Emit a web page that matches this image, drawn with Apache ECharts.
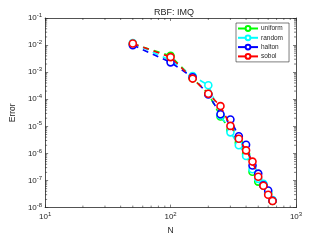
<!DOCTYPE html>
<html><head><meta charset="utf-8">
<script src="https://cdn.jsdelivr.net/npm/echarts@6/dist/echarts.min.js"></script>
<style>html,body{margin:0;padding:0;background:#fff}#c{width:327px;height:240px}</style>
</head><body><div id="c"></div>
<script>
const N = [50,100,150,200,250,300,350,400,450,500,550,600,650];
const uniform = [1.1e-2,4.0e-3,6.0e-4,1.6e-4,2.3e-5,7.4e-6,2.5e-6,9.5e-7,2.1e-7,9.1e-8,6.5e-8,3.4e-8,1.75e-8];
const random  = [1.2e-2,2.7e-3,7.2e-4,3.3e-4,2.6e-5,6.0e-6,2.0e-6,8.0e-7,2.6e-7,1.15e-7,7.5e-8,3.8e-8,1.9e-8];
const halton  = [1.0e-2,2.3e-3,6.5e-4,1.5e-4,2.8e-5,1.8e-5,4.3e-6,2.1e-6,3.6e-7,1.8e-7,6.7e-8,4.3e-8,1.8e-8];
const sobol   = [1.15e-2,3.6e-3,5.8e-4,1.6e-4,5.6e-5,1.04e-5,3.5e-6,1.3e-6,5.0e-7,1.38e-7,6.4e-8,3.0e-8,1.75e-8];
const names = ['uniform','random','halton','sobol'];
const colors = ['#00ff00','#00ffff','#0000ff','#ff0000'];
const xMinor = [20,30,40,50,60,70,80,90,200,300,400,500,600,700,800,900];
const yMinor = [];
for (let e=-8; e<-1; e++) for (let m=2; m<=9; m++) yMinor.push(m*Math.pow(10,e));
const X_MIN=10, X_MAX=1000, Y_MIN=1e-8, Y_MAX=1e-1;
const axisColor = '#262626';
const FF = 'Liberation Sans';

function supFmt(v){ const e=Math.round(Math.log10(v)); return '10{s|'+e+'}'; }
const rich = { s:{fontSize:6, verticalAlign:'top', padding:[0,0,5,0], color:axisColor, fontFamily:FF} };

const chart = echarts.init(document.getElementById('c'), null, {renderer:'canvas'});
const data = [uniform, random, halton, sobol];
const series = data.map((d,i)=>({
  name:names[i], type:'line', xAxisIndex:0, yAxisIndex:0,
  data:N.map((n,j)=>[n,d[j]]),
  symbol:'circle', symbolSize:7, showSymbol:true,
  itemStyle:{color:'#fff', borderColor:colors[i], borderWidth:1.6},
  lineStyle:{color:colors[i], width:1.6, type:[6,5]},
  z:2+i, animation:false
}));
series.push({
  type:'custom', xAxisIndex:0, yAxisIndex:0, silent:true, clip:false, z:10,
  data:xMinor.map(v=>[v]),
  renderItem:(params, api)=>{
    const v = api.value(0);
    const b = api.coord([v, Y_MIN]), t = api.coord([v, Y_MAX]);
    const st = {stroke:axisColor, lineWidth:0.6};
    return {type:'group', children:[
      {type:'line', shape:{x1:b[0],y1:b[1],x2:b[0],y2:b[1]-2}, style:st},
      {type:'line', shape:{x1:t[0],y1:t[1],x2:t[0],y2:t[1]+2}, style:st}
    ]};
  }, animation:false
});
series.push({
  type:'custom', xAxisIndex:0, yAxisIndex:0, silent:true, clip:false, z:10,
  data:yMinor.map(v=>[v]),
  renderItem:(params, api)=>{
    const v = api.value(0);
    const l = api.coord([X_MIN, v]), r = api.coord([X_MAX, v]);
    const st = {stroke:axisColor, lineWidth:0.6};
    return {type:'group', children:[
      {type:'line', shape:{x1:l[0],y1:l[1],x2:l[0]+2,y2:l[1]}, style:st},
      {type:'line', shape:{x1:r[0],y1:r[1],x2:r[0]-2,y2:r[1]}, style:st}
    ]};
  }, animation:false
});

const baseX = {type:'log', logBase:10, min:X_MIN, max:X_MAX, splitLine:{show:false},
  axisLine:{show:true, lineStyle:{color:axisColor, width:0.8}},
  axisTick:{show:true, inside:true, length:3, lineStyle:{color:axisColor, width:0.6}}};
const baseY = {type:'log', logBase:10, min:Y_MIN, max:Y_MAX, splitLine:{show:false},
  axisLine:{show:true, lineStyle:{color:axisColor, width:0.8}},
  axisTick:{show:true, inside:true, length:3, lineStyle:{color:axisColor, width:0.6}}};

chart.setOption({
  animation:false,
  backgroundColor:'#fff',
  title:{text:'RBF: IMQ', left:169, top:3, textAlign:'center',
    textStyle:{fontSize:9, fontWeight:'normal', color:axisColor, fontFamily:FF}},
  grid:{left:43, right:31, top:18, bottom:27, containLabel:false},
  legend:{orient:'vertical', left:236, top:23, itemWidth:20, itemHeight:6, itemGap:2.3,
    padding:[2,6,2,1], borderColor:axisColor, borderWidth:0.6, backgroundColor:'#fff',
    lineStyle:{type:'solid'},
    textStyle:{fontSize:6.5, color:axisColor, fontFamily:FF, padding:[0,0,0,-2]},
    data:names, selectedMode:false},
  xAxis:[
    Object.assign({}, baseX, {position:'bottom', name:'N', nameLocation:'middle', nameGap:16,
      nameTextStyle:{fontSize:8.5, color:axisColor, fontFamily:FF},
      axisLabel:{show:true, formatter:supFmt, rich:rich, fontSize:8, color:axisColor, margin:4, fontFamily:FF}}),
    Object.assign({}, baseX, {position:'top', axisLabel:{show:false}})
  ],
  yAxis:[
    Object.assign({}, baseY, {position:'left', name:'Error', nameLocation:'middle', nameGap:18,
      nameTextStyle:{fontSize:8.5, color:axisColor, fontFamily:FF},
      axisLabel:{show:true, formatter:supFmt, rich:rich, fontSize:8, color:axisColor, margin:3, fontFamily:FF}}),
    Object.assign({}, baseY, {position:'right', axisLabel:{show:false}})
  ],
  series:series
});
</script></body></html>
